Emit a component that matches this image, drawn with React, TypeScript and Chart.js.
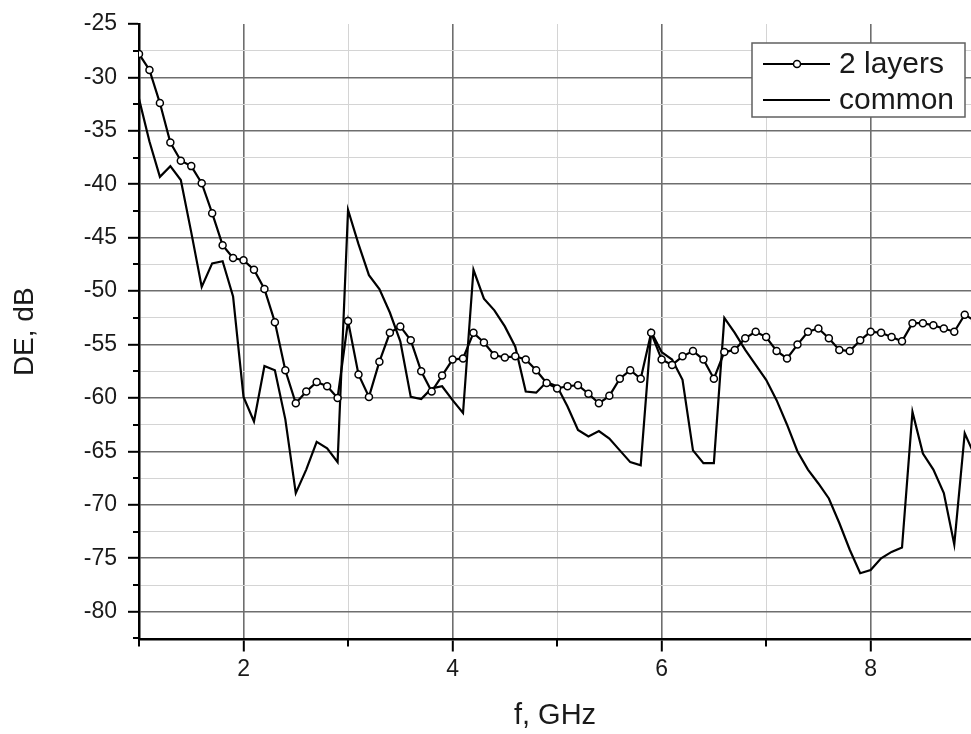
import React, { useEffect, useRef } from 'react';
import { Chart, registerables } from 'chart.js';

Chart.register(...registerables);

// Frequency, GHz
const freqGHz = [
  1.0, 1.1, 1.2, 1.3, 1.4, 1.5, 1.6, 1.7, 1.8, 1.9,
  2.0, 2.1, 2.2, 2.3, 2.4, 2.5, 2.6, 2.7, 2.8, 2.9,
  3.0, 3.1, 3.2, 3.3, 3.4, 3.5, 3.6, 3.7, 3.8, 3.9,
  4.0, 4.1, 4.2, 4.3, 4.4, 4.5, 4.6, 4.7, 4.8, 4.9,
  5.0, 5.1, 5.2, 5.3, 5.4, 5.5, 5.6, 5.7, 5.8, 5.9,
  6.0, 6.1, 6.2, 6.3, 6.4, 6.5, 6.6, 6.7, 6.8, 6.9,
  7.0, 7.1, 7.2, 7.3, 7.4, 7.5, 7.6, 7.7, 7.8, 7.9,
  8.0, 8.1, 8.2, 8.3, 8.4, 8.5, 8.6, 8.7, 8.8, 8.9,
  9.0,
];

// DE, dB — "2 layers"
const twoLayers = [
  -27.8, -29.3, -32.4, -36.1, -37.8, -38.3, -39.9, -42.7, -45.7, -46.9,
  -47.1, -48.0, -49.8, -52.9, -57.4, -60.5, -59.4, -58.5, -58.9, -60.0,
  -52.8, -57.8, -59.9, -56.6, -53.9, -53.3, -54.6, -57.5, -59.4, -57.9,
  -56.4, -56.3, -53.9, -54.8, -56.0, -56.2, -56.1, -56.4, -57.4, -58.6,
  -59.1, -58.9, -58.8, -59.6, -60.5, -59.8, -58.2, -57.4, -58.2, -53.9,
  -56.4, -56.9, -56.1, -55.6, -56.4, -58.2, -55.7, -55.5, -54.4, -53.8,
  -54.3, -55.6, -56.3, -55.0, -53.8, -53.5, -54.4, -55.5, -55.6, -54.6,
  -53.8, -53.9, -54.3, -54.7, -53.0, -53.0, -53.2, -53.5, -53.8, -52.2,
  -52.8,
];

// DE, dB — "common"
const common = [
  -32.0, -36.0, -39.3, -38.3, -39.6, -44.5, -49.6, -47.4, -47.2, -50.5,
  -59.9, -62.2, -57.0, -57.4, -62.0, -68.9, -66.7, -64.1, -64.7, -66.0,
  -42.4, -45.6, -48.5, -49.8, -52.0, -54.7, -59.9, -60.1, -59.1, -58.9,
  -60.2, -61.4, -48.0, -50.7, -51.8, -53.3, -55.2, -59.4, -59.5, -58.5,
  -58.9, -60.8, -63.0, -63.6, -63.1, -63.8, -64.9, -66.0, -66.3, -53.8,
  -55.7, -56.4, -58.3, -64.9, -66.1, -66.1, -52.5, -53.9, -55.5, -56.9,
  -58.3, -60.2, -62.5, -65.0, -66.7, -68.0, -69.4, -71.7, -74.2, -76.4,
  -76.1, -75.0, -74.4, -74.0, -61.3, -65.2, -66.7, -68.9, -73.7, -63.3,
  -65.5,
];

const seriesNames = ['2 layers', 'common'];
const xTickLabels = [2, 4, 6, 8];
const yTickLabels = [-25, -30, -35, -40, -45, -50, -55, -60, -65, -70, -75, -80];

const FONT = "'Liberation Sans', Arial, Helvetica, sans-serif";
const TEXT = '#1a1a1a';
const MAJOR_GRID = '#6e6e6e';
const MINOR_GRID = '#d4d4d4';

const isYMajor = (v: number) => yTickLabels.some((t) => Math.abs(t - v) < 1e-6);
const isXMajor = (v: number) => xTickLabels.some((t) => Math.abs(t - v) < 1e-6);

const minorTicksAndLegend = {
  id: 'minorTicksAndLegend',
  afterDraw(chart: any) {
    const ctx = chart.ctx;
    const xs = chart.scales.x;
    const ys = chart.scales.y;
    const area = chart.chartArea;
    ctx.save();
    ctx.strokeStyle = '#000';
    ctx.lineWidth = 2;
    xs.ticks.forEach((t: any) => {
      if (isXMajor(t.value)) return;
      const px = Math.round(xs.getPixelForValue(t.value));
      ctx.beginPath();
      ctx.moveTo(px, area.bottom);
      ctx.lineTo(px, area.bottom + 7);
      ctx.stroke();
    });
    ys.ticks.forEach((t: any) => {
      if (isYMajor(t.value)) return;
      const py = Math.round(ys.getPixelForValue(t.value));
      ctx.beginPath();
      ctx.moveTo(area.left, py);
      ctx.lineTo(area.left - 6, py);
      ctx.stroke();
    });

    // legend box
    const bx = 752, by = 43, bw = 213, bh = 74;
    ctx.fillStyle = '#ffffff';
    ctx.fillRect(bx, by, bw, bh);
    ctx.strokeStyle = '#606060';
    ctx.lineWidth = 1.5;
    ctx.strokeRect(bx, by, bw, bh);

    const rows = [65, 101];
    ctx.strokeStyle = '#000';
    ctx.lineWidth = 2;
    rows.forEach((ry, i) => {
      ctx.beginPath();
      ctx.moveTo(763, ry - 1);
      ctx.lineTo(830, ry - 1);
      ctx.stroke();
      if (i === 0) {
        ctx.beginPath();
        ctx.arc(797, ry - 1, 3.5, 0, Math.PI * 2);
        ctx.fillStyle = '#fff';
        ctx.fill();
        ctx.lineWidth = 1.5;
        ctx.stroke();
        ctx.lineWidth = 2;
      }
      ctx.fillStyle = TEXT;
      ctx.font = `30px ${FONT}`;
      ctx.textAlign = 'left';
      ctx.textBaseline = 'middle';
      ctx.fillText(seriesNames[i], 839, ry);
    });
    ctx.restore();
  },
};

export default function App() {
  const canvasRef = useRef<HTMLCanvasElement | null>(null);

  useEffect(() => {
    if (!canvasRef.current) return;
    const chart = new Chart(canvasRef.current, {
      type: 'line',
      data: {
        labels: freqGHz,
        datasets: [
          {
            label: seriesNames[0],
            data: freqGHz.map((f, i) => ({ x: f, y: twoLayers[i] })),
            borderColor: '#000',
            borderWidth: 2.2,
            pointRadius: 3.5,
            pointBackgroundColor: '#fff',
            pointBorderColor: '#000',
            pointBorderWidth: 1.5,
            tension: 0,
            fill: false,
          },
          {
            label: seriesNames[1],
            data: freqGHz.map((f, i) => ({ x: f, y: common[i] })),
            borderColor: '#000',
            borderWidth: 2.2,
            pointRadius: 0,
            tension: 0,
            fill: false,
          },
        ],
      },
      options: {
        responsive: false,
        animation: false,
        devicePixelRatio: 1,
        layout: { autoPadding: false, padding: { top: 24, right: 0, left: 0, bottom: 0 } },
        plugins: {
          legend: { display: false },
          tooltip: { enabled: false },
        },
        scales: {
          x: {
            type: 'linear',
            min: 1,
            max: 8.96,
            afterFit: (s: any) => {
              s.height = 94.5;
            },
            border: { color: '#000', width: 2.5 },
            grid: {
              color: (c: any) => (c.tick && isXMajor(c.tick.value) ? MAJOR_GRID : MINOR_GRID),
              lineWidth: (c: any) => (c.tick && isXMajor(c.tick.value) ? 1.6 : 1),
              tickLength: 12,
              tickWidth: 2,
              tickColor: (c: any) => (c.tick && isXMajor(c.tick.value) ? '#000' : 'rgba(0,0,0,0)'),
            },
            ticks: {
              stepSize: 1,
              includeBounds: false,
              autoSkip: false,
              maxRotation: 0,
              minRotation: 0,
              padding: 4,
              color: TEXT,
              font: { family: FONT, size: 23 },
              callback: (v: any) => (isXMajor(Number(v)) ? String(v) : ''),
            },
            title: {
              display: true,
              text: 'f, GHz',
              color: TEXT,
              font: { family: FONT, size: 29 },
              padding: { top: 0, bottom: 1 },
            },
          },
          y: {
            type: 'linear',
            min: -82.6,
            max: -25,
            afterFit: (s: any) => {
              s.width = 139;
            },
            border: { color: '#000', width: 2.5 },
            grid: {
              color: (c: any) => {
                if (!c.tick) return MINOR_GRID;
                if (Math.abs(c.tick.value + 25) < 1e-6) return 'rgba(0,0,0,0)';
                return isYMajor(c.tick.value) ? MAJOR_GRID : MINOR_GRID;
              },
              lineWidth: (c: any) => (c.tick && isYMajor(c.tick.value) ? 1.6 : 1),
              tickLength: 11,
              tickWidth: 2,
              tickColor: (c: any) => (c.tick && isYMajor(c.tick.value) ? '#000' : 'rgba(0,0,0,0)'),
            },
            ticks: {
              stepSize: 2.5,
              includeBounds: false,
              autoSkip: false,
              padding: 11,
              color: TEXT,
              font: { family: FONT, size: 23, lineHeight: 1 },
              callback: (v: any) => (isYMajor(Number(v)) ? String(Math.round(Number(v))) : ''),
            },
            title: {
              display: true,
              text: 'DE, dB',
              color: TEXT,
              font: { family: FONT, size: 28 },
              padding: { top: 8, bottom: 0 },
            },
          },
        },
      },
      plugins: [minorTicksAndLegend],
    });
    return () => chart.destroy();
  }, []);

  return (
    <div style={{ position: 'absolute', left: 0, top: 0, width: 971, height: 734, background: '#fff' }}>
      <canvas ref={canvasRef} width={971} height={734} style={{ display: 'block' }} />
    </div>
  );
}
